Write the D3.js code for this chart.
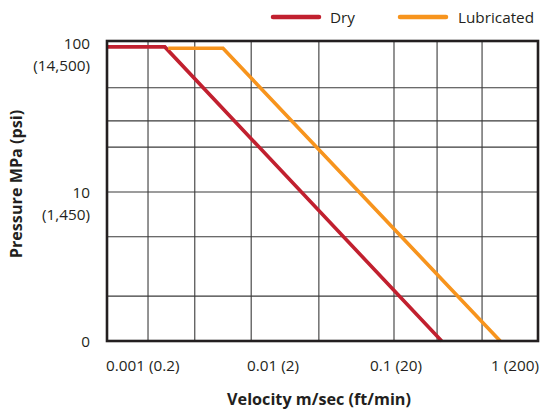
<!DOCTYPE html>
<html>
<head>
<meta charset="utf-8">
<script src="https://cdn.jsdelivr.net/npm/d3@7"></script>
<style>
  html, body { margin: 0; padding: 0; background: #ffffff; }
  svg { display: block; font-family: "Open Sans", "Noto Sans", sans-serif; }
</style>
</head>
<body>
<svg id="chart" width="540" height="409"></svg>
<script>
// ---- data ----
const seriesNames = ["Dry", "Lubricated"];
const dryVelocity = [0.000464, 0.00137, 0.244];
const dryPressure = [94, 94, 1];
const lubVelocity = [0.00146, 0.00407, 0.73];
const lubPressure = [92, 92, 1];

const xTickValues = [0.001, 0.01, 0.1, 1];
const xTickLabels = ["0.001 (0.2)", "0.01 (2)", "0.1 (20)", "1 (200)"];
const yTickValues = [1, 10, 100];
const yTickLabels = [["0"], ["10", "(1,450)"], ["100", "(14,500)"]];

const xGridValues = [0.001, 0.0024, 0.0069, 0.0245, 0.1, 0.224, 0.52];
const yGridValues = [2, 5, 10, 20, 30, 50];

const xDomain = [0.000464, 1.482];
const yDomain = [1, 103];

// ---- layout ----
const svg = d3.select("#chart");
const plotL = 107, plotR = 538, plotT = 41, plotB = 341;
const colors = { Dry: "#c1202f", Lubricated: "#f7941d" };

const x = d3.scaleLog().domain(xDomain).range([plotL, plotR]);
const y = d3.scaleLog().domain(yDomain).range([plotB, plotT]);

// grid
const grid = svg.append("g");
grid.selectAll("line.vx").data(xGridValues).join("line")
  .attr("x1", d => x(d)).attr("x2", d => x(d))
  .attr("y1", plotT).attr("y2", plotB)
  .attr("stroke", "#3a3a3a").attr("stroke-width", 1.1);
grid.selectAll("line.hy").data(yGridValues).join("line")
  .attr("x1", plotL).attr("x2", plotR)
  .attr("y1", d => y(d)).attr("y2", d => y(d))
  .attr("stroke", "#3a3a3a").attr("stroke-width", 1.1);

// series lines
const lineGen = d3.line().x(d => x(d[0])).y(d => y(d[1]));
const series = [
  { name: "Dry", pts: d3.zip(dryVelocity, dryPressure) },
  { name: "Lubricated", pts: d3.zip(lubVelocity, lubPressure) }
];
svg.append("g").selectAll("path").data(series).join("path")
  .attr("d", d => lineGen(d.pts))
  .attr("fill", "none")
  .attr("stroke", d => colors[d.name])
  .attr("stroke-width", 3.6)
  .attr("stroke-linejoin", "miter");

// frame
svg.append("rect")
  .attr("x", plotL).attr("y", plotT)
  .attr("width", plotR - plotL).attr("height", plotB - plotT)
  .attr("fill", "none").attr("stroke", "#231f20").attr("stroke-width", 2.6);

// x tick labels
const nX = xTickValues.length;
svg.append("g").selectAll("text").data(xTickValues).join("text")
  .attr("x", (d, i) => i === nX - 1 ? plotR + 1 : (i === 0 ? plotL - 1 : x(d) + 2))
  .attr("y", 371)
  .attr("text-anchor", (d, i) => i === nX - 1 ? "end" : (i === 0 ? "start" : "middle"))
  .attr("font-size", 15.3)
  .attr("fill", "#231f20")
  .text((d, i) => xTickLabels[i]);

// y tick labels
const yt = svg.append("g").selectAll("text").data(yTickValues).join("text")
  .attr("x", 90)
  .attr("y", d => y(d) + 6)
  .attr("text-anchor", "end")
  .attr("font-size", 15.3)
  .attr("fill", "#231f20");
yt.selectAll("tspan").data((d, i) => yTickLabels[i]).join("tspan")
  .attr("x", 90)
  .attr("dy", (d, i) => i === 0 ? 0 : 22)
  .text(d => d);

// axis titles
svg.append("text")
  .attr("x", 319).attr("y", 405)
  .attr("text-anchor", "middle")
  .attr("font-size", 16.2).attr("font-weight", "bold")
  .attr("fill", "#231f20")
  .text("Velocity m/sec (ft/min)");
svg.append("text")
  .attr("transform", "translate(22,184) rotate(-90)")
  .attr("text-anchor", "middle")
  .attr("font-size", 16.2).attr("font-weight", "bold")
  .attr("fill", "#231f20")
  .text("Pressure MPa (psi)");

// legend
const legendX = [273, 400];
const lg = svg.append("g").selectAll("g").data(seriesNames).join("g")
  .attr("transform", (d, i) => `translate(${legendX[i]},17)`);
lg.append("line")
  .attr("x1", 0).attr("x2", 46).attr("y1", 0).attr("y2", 0)
  .attr("stroke", d => colors[d]).attr("stroke-width", 4.5)
  .attr("stroke-linecap", "round");
lg.append("text")
  .attr("x", (d, i) => i === 0 ? 57 : 58)
  .attr("y", 5.5)
  .attr("font-size", 15.3)
  .attr("fill", "#231f20")
  .text(d => d);
</script>
</body>
</html>
